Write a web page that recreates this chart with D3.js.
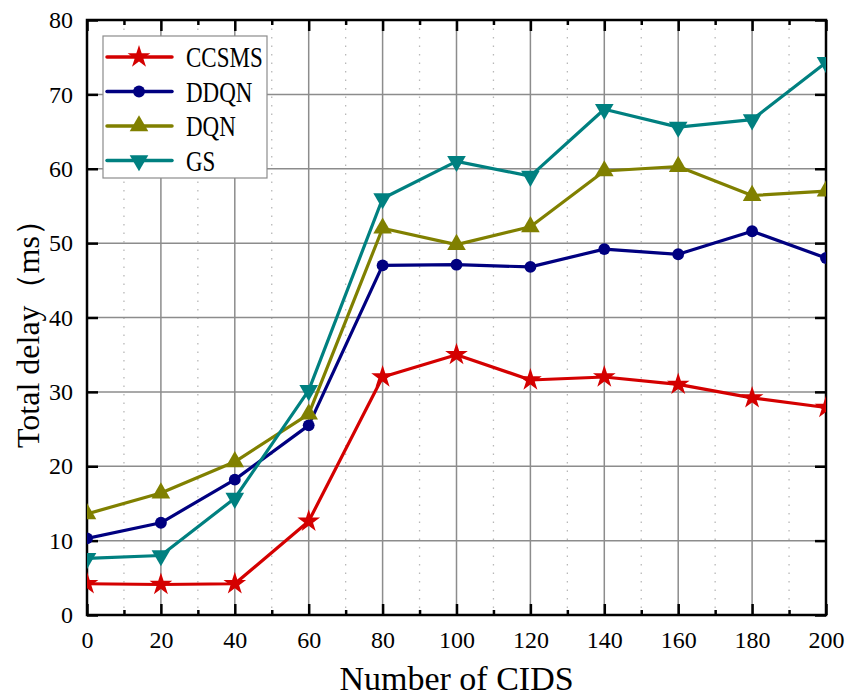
<!DOCTYPE html>
<html>
<head>
<meta charset="utf-8">
<script src="https://cdn.jsdelivr.net/npm/d3@7"></script>
<style>
  body { margin: 0; background: #fff; }
  text { font-family: "Liberation Serif", "DejaVu Serif", serif; }
</style>
</head>
<body>
<div id="chart"></div>
<script>
// values
const xValues = [0, 20, 40, 60, 80, 100, 120, 140, 160, 180, 200];
const ccsms = [4.2, 4.1, 4.2, 12.6, 32.0, 35.0, 31.6, 32.0, 31.0, 29.2, 27.9];
const ddqn  = [10.3, 12.4, 18.2, 25.5, 47.0, 47.1, 46.8, 49.2, 48.5, 51.6, 48.0];
const dqn   = [13.6, 16.4, 20.6, 27.0, 52.0, 49.8, 52.2, 59.7, 60.3, 56.4, 57.0];
const gs    = [7.6, 8.0, 15.7, 30.2, 56.0, 61.0, 59.0, 68.0, 65.6, 66.6, 74.3];
const xTicks = [0, 20, 40, 60, 80, 100, 120, 140, 160, 180, 200];
const yTicks = [0, 10, 20, 30, 40, 50, 60, 70, 80];

const series = [
    { name: "CCSMS", values: ccsms, color: "#d40000", marker: "star" },
    { name: "DDQN", values: ddqn, color: "#000080", marker: "circle" },
    { name: "DQN", values: dqn, color: "#808000", marker: "up" },
    { name: "GS", values: gs, color: "#008080", marker: "down" }
];

const W = 847, H = 696;
const margin = { top: 20, right: 21, bottom: 81, left: 87 };
const width = W - margin.left - margin.right;
const height = H - margin.top - margin.bottom;

const svg = d3.select("#chart").append("svg")
    .attr("width", W)
    .attr("height", H);

const g = svg.append("g")
    .attr("transform", `translate(${margin.left},${margin.top})`);

const x = d3.scaleLinear().domain([0, 200]).range([0, width]);
const y = d3.scaleLinear().domain([0, 80]).range([height, 0]);

// minor vertical grid (dotted)
const minorX = d3.range(10, 200, 20);
g.append("g").selectAll("line")
    .data(minorX)
    .join("line")
    .attr("x1", d => x(d)).attr("x2", d => x(d))
    .attr("y1", 0).attr("y2", height)
    .attr("stroke", "#b8b8b8")
    .attr("stroke-width", 1.3)
    .attr("stroke-dasharray", "1.5,7");

// major grid
g.append("g").selectAll("line")
    .data(xTicks.slice(1, -1))
    .join("line")
    .attr("x1", d => x(d)).attr("x2", d => x(d))
    .attr("y1", 0).attr("y2", height)
    .attr("stroke", "#8c8c8c")
    .attr("stroke-width", 1.5);

g.append("g").selectAll("line")
    .data(yTicks.slice(1, -1))
    .join("line")
    .attr("x1", 0).attr("x2", width)
    .attr("y1", d => y(d)).attr("y2", d => y(d))
    .attr("stroke", "#8c8c8c")
    .attr("stroke-width", 1.5);

// axes with inward ticks
function styleAxis(sel) {
    sel.select(".domain").remove();
    sel.selectAll(".tick line").attr("stroke", "#000").attr("stroke-width", 2.5);
    sel.selectAll(".tick text")
        .style("font-family", "Liberation Serif")
        .style("font-size", "24px")
        .attr("fill", "#000");
}

const xAxis = g.append("g")
    .attr("transform", `translate(0,${height})`)
    .call(d3.axisBottom(x).tickValues(xTicks).tickSizeInner(-11).tickSizeOuter(0).tickPadding(16));
styleAxis(xAxis);

g.append("g")
    .attr("transform", `translate(0,${height})`)
    .call(d3.axisBottom(x).tickValues(minorX).tickSizeInner(-5).tickSizeOuter(0).tickFormat(""))
    .call(styleAxis);

g.append("g")
    .call(d3.axisTop(x).tickValues(xTicks).tickSizeInner(-11).tickSizeOuter(0).tickFormat(""))
    .call(styleAxis);
g.append("g")
    .call(d3.axisTop(x).tickValues(minorX).tickSizeInner(-5).tickSizeOuter(0).tickFormat(""))
    .call(styleAxis);

const yAxis = g.append("g")
    .call(d3.axisLeft(y).tickValues(yTicks).tickSizeInner(-11).tickSizeOuter(0).tickPadding(14));
styleAxis(yAxis);

g.append("g")
    .attr("transform", `translate(${width},0)`)
    .call(d3.axisRight(y).tickValues(yTicks).tickSizeInner(-11).tickSizeOuter(0).tickFormat(""))
    .call(styleAxis);

// frame
g.append("rect")
    .attr("width", width)
    .attr("height", height)
    .attr("fill", "none")
    .attr("stroke", "#000")
    .attr("stroke-width", 2.5);

// clip for data
g.append("defs").append("clipPath")
    .attr("id", "clip")
    .append("rect")
    .attr("width", width)
    .attr("height", height);

const symbolFor = {
    star: d3.symbol().type(d3.symbolStar).size(160),
    circle: d3.symbol().type(d3.symbolCircle).size(110),
    up: d3.symbol().type(d3.symbolTriangle).size(150),
    down: d3.symbol().type(d3.symbolTriangle).size(150)
};

const line = d3.line()
    .x((d, i) => x(xValues[i]))
    .y(d => y(d));

const plot = g.append("g").attr("clip-path", "url(#clip)");

series.forEach(s => {
    plot.append("path")
        .datum(s.values)
        .attr("fill", "none")
        .attr("stroke", s.color)
        .attr("stroke-width", 3.2)
        .attr("stroke-linejoin", "round")
        .attr("d", line);

    plot.append("g").selectAll("path")
        .data(s.values)
        .join("path")
        .attr("d", symbolFor[s.marker]())
        .attr("transform", (d, i) => `translate(${x(xValues[i])},${y(d)})${s.marker === "down" ? " rotate(180)" : ""}`)
        .attr("fill", s.color);
});

// legend
const legend = svg.append("g").attr("transform", "translate(103,36)");
legend.append("rect")
    .attr("width", 164)
    .attr("height", 142)
    .attr("fill", "#fff")
    .attr("stroke", "#8c8c8c")
    .attr("stroke-width", 1.2);

series.forEach((s, i) => {
    const row = legend.append("g").attr("transform", `translate(0,${21 + i * 34.5})`);
    row.append("line")
        .attr("x1", 4).attr("x2", 69)
        .attr("stroke", s.color)
        .attr("stroke-width", 3.5)
        .attr("stroke-linecap", "round");
    row.append("path")
        .attr("d", symbolFor[s.marker]())
        .attr("transform", `translate(36,0)${s.marker === "down" ? " rotate(180)" : ""}`)
        .attr("fill", s.color);
    row.append("text")
        .attr("transform", "translate(83,10) scale(1,1.3)")
        .style("font-size", "23px")
        .text(s.name);
});

// axis titles
svg.append("text")
    .attr("x", margin.left + width / 2)
    .attr("y", 690)
    .attr("text-anchor", "middle")
    .style("font-size", "34px")
    .text("Number of CIDS");

svg.append("text")
    .attr("transform", `translate(39,326) rotate(-90)`)
    .attr("text-anchor", "middle")
    .style("font-size", "32px")
    .text("Total delay（ms）");
</script>
</body>
</html>
